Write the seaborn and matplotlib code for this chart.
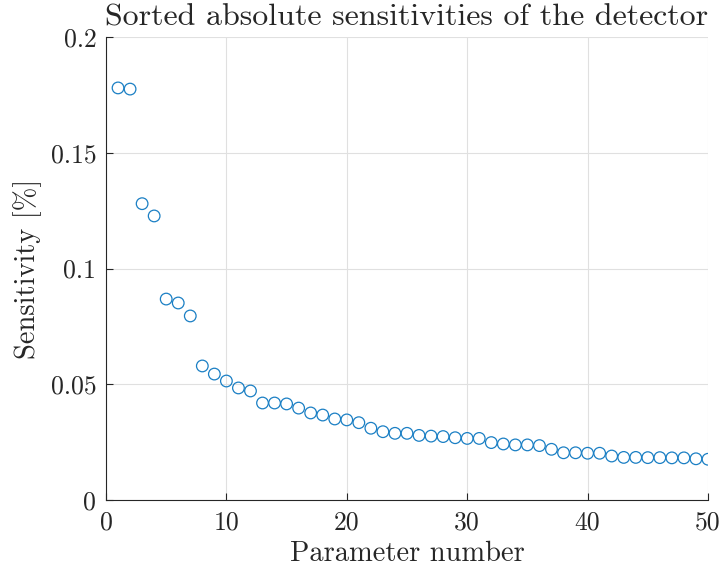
import numpy as np
import pandas as pd
import matplotlib
matplotlib.use("Agg")
import matplotlib.pyplot as plt
import seaborn as sns

# Sorted absolute sensitivities, in percent
param_number = list(range(1, 51))
sensitivity = [
    0.178, 0.1775, 0.128, 0.1227, 0.0868, 0.0851, 0.0795, 0.0579, 0.0544, 0.0514,
    0.0484, 0.0471, 0.0419, 0.0419, 0.0415, 0.0397, 0.0376, 0.0367, 0.0350, 0.0346,
    0.0334, 0.0310, 0.0295, 0.0288, 0.0288, 0.0279, 0.0276, 0.0274, 0.0269, 0.0266,
    0.0266, 0.0248, 0.0242, 0.0238, 0.0238, 0.0235, 0.0219, 0.0204, 0.0204, 0.0202,
    0.0202, 0.0190, 0.0184, 0.0184, 0.0183, 0.0183, 0.0182, 0.0182, 0.0178, 0.0176,
]
x_ticks = [0, 10, 20, 30, 40, 50]
y_ticks = [0, 0.05, 0.1, 0.15, 0.2]
y_tick_labels = ["0", "0.05", "0.1", "0.15", "0.2"]

df = pd.DataFrame({"param": param_number, "sens": sensitivity})

sns.set_theme(style="white")
plt.rcParams["font.family"] = ["cmr10", "DejaVu Serif"]
plt.rcParams["mathtext.fontset"] = "cm"
plt.rcParams["axes.formatter.use_mathtext"] = True

fig = plt.figure(figsize=(7.24, 5.79), dpi=100)
ax = fig.add_axes([106 / 724, 79 / 579, 602 / 724, 463 / 579])

sns.scatterplot(data=df, x="param", y="sens", ax=ax, marker="o", s=70,
                facecolors="none", edgecolor="#1a7fc4", linewidth=0.9,
                legend=False, zorder=3)

ax.set_xlim(0, 50)
ax.set_ylim(0, 0.2)
ax.set_xticks(x_ticks)
ax.set_xticklabels([str(t) for t in x_ticks])
ax.set_yticks(y_ticks)
ax.set_yticklabels(y_tick_labels)

ax.grid(True, color="#e0e0e0", linewidth=0.8)
ax.set_axisbelow(True)
for side in ["top", "right"]:
    ax.spines[side].set_visible(False)
for side in ["left", "bottom"]:
    ax.spines[side].set_color("#262626")
    ax.spines[side].set_linewidth(0.8)

ax.tick_params(axis="both", direction="in", length=5, width=0.8, color="#262626",
               labelsize=18.5, labelcolor="#262626", left=True, bottom=True)
ax.tick_params(axis="x", pad=8)
ax.tick_params(axis="y", pad=7)

ax.set_xlabel("Parameter number", fontsize=20.5, color="#262626", labelpad=4)
ax.set_ylabel("Sensitivity [%]", fontsize=20.5, color="#262626", labelpad=6)
ax.set_title("Sorted absolute sensitivities of the detector", fontsize=23,
             color="#262626", pad=8)

fig.savefig("out.png", dpi=100)
